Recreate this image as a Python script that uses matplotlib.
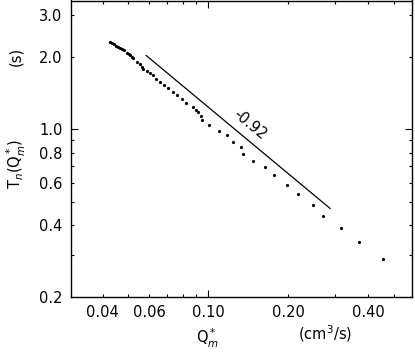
import numpy as np
import matplotlib
matplotlib.use("Agg")
import matplotlib.pyplot as plt
from matplotlib.ticker import FixedLocator, FuncFormatter

# data (log-log)
q_m = [0.04269, 0.04342, 0.04418, 0.04495, 0.04574, 0.04653, 0.04734, 0.04817,
       0.04944, 0.05009, 0.05075, 0.05141, 0.05221, 0.05377, 0.05534, 0.05616,
       0.05694, 0.05864, 0.06035, 0.06193, 0.06356, 0.06581, 0.06813, 0.07071,
       0.07346, 0.07647, 0.07943, 0.08243, 0.08737, 0.08991, 0.09171, 0.09387,
       0.09428, 0.1006, 0.1097, 0.1173, 0.1239, 0.1327, 0.1354, 0.1477,
       0.1635, 0.1771, 0.1972, 0.2181, 0.2471, 0.2708, 0.3148, 0.3690, 0.4543]
t_n = [2.312, 2.285, 2.259, 2.233, 2.207, 2.182, 2.157, 2.130,
       2.080, 2.054, 2.030, 2.002, 1.977, 1.913, 1.866, 1.823,
       1.784, 1.750, 1.717, 1.676, 1.621, 1.567, 1.530, 1.482,
       1.435, 1.390, 1.334, 1.291, 1.242, 1.203, 1.181, 1.136,
       1.088, 1.042, 0.984, 0.942, 0.888, 0.841, 0.789, 0.740,
       0.694, 0.643, 0.586, 0.536, 0.482, 0.434, 0.387, 0.340, 0.288]

# power-law guide line, slope -0.92
fit_x = [0.0583, 0.287]
fit_y = [2.03, 0.468]
slope_label = "-0.92"

x_ticklabels = [0.04, 0.06, 0.10, 0.20, 0.40]
y_ticklabels = [0.2, 0.4, 0.6, 0.8, 1.0, 2.0, 3.0]

fig = plt.figure(figsize=(4.15, 3.57), dpi=100)
ax = fig.add_axes([71/415, 60/357, 341/415, 296.5/357])

ax.plot(q_m, t_n, "o", color="black", ms=2.3, mec="none")
ax.plot(fit_x, fit_y, color="black", lw=0.9)
ax.text(0.1435, 1.042, slope_label, rotation=-39.5, ha="center", va="center",
        fontsize=10.5, rotation_mode="anchor")

ax.set_xscale("log")
ax.set_yscale("log")
ax.set_xlim(0.0304, 0.584)
ax.set_ylim(0.2, 3.44)

# ticks: only 0.1 / 1.0 are long, the rest short
ax.xaxis.set_major_locator(FixedLocator([0.1]))
ax.xaxis.set_minor_locator(FixedLocator([0.04, 0.05, 0.06, 0.07, 0.08, 0.09, 0.2, 0.3, 0.4, 0.5]))
ax.yaxis.set_major_locator(FixedLocator([1.0]))
ax.yaxis.set_minor_locator(FixedLocator([0.2, 0.3, 0.4, 0.5, 0.6, 0.7, 0.8, 0.9, 2.0, 3.0]))

def xfmt(v, pos):
    for t in x_ticklabels:
        if abs(v - t) < 1e-6:
            return f"{t:.2f}"
    return ""

def yfmt(v, pos):
    for t in y_ticklabels:
        if abs(v - t) < 1e-6:
            return f"{t:.1f}"
    return ""

ax.xaxis.set_major_formatter(FuncFormatter(xfmt))
ax.xaxis.set_minor_formatter(FuncFormatter(xfmt))
ax.yaxis.set_major_formatter(FuncFormatter(yfmt))
ax.yaxis.set_minor_formatter(FuncFormatter(yfmt))

ax.tick_params(which="both", direction="in", top=True, right=True,
               labelsize=10.5, color="black", width=0.8)
ax.tick_params(which="major", length=5)
ax.tick_params(which="minor", length=2.5)
ax.tick_params(axis="x", which="both", pad=6)
ax.tick_params(axis="y", which="both", pad=6)

for s in ax.spines.values():
    s.set_linewidth(1.0)

# axis labels
fig.text(16/415, 1 - 164/357, r"T$_n$(Q$^*_m$)", rotation=90, ha="center",
         va="center", fontsize=10.5)
fig.text(16/415, 1 - 56/357, "(s)", rotation=90, ha="center", va="center",
         fontsize=10.5)
fig.text(207/415, 1 - 338/357, r"Q$^*_m$", ha="center", va="center", fontsize=10.5)
fig.text(325/415, 1 - 334/357, r"(cm$^3$/s)", ha="center", va="center", fontsize=10.5)

fig.savefig("out.png", dpi=100)
